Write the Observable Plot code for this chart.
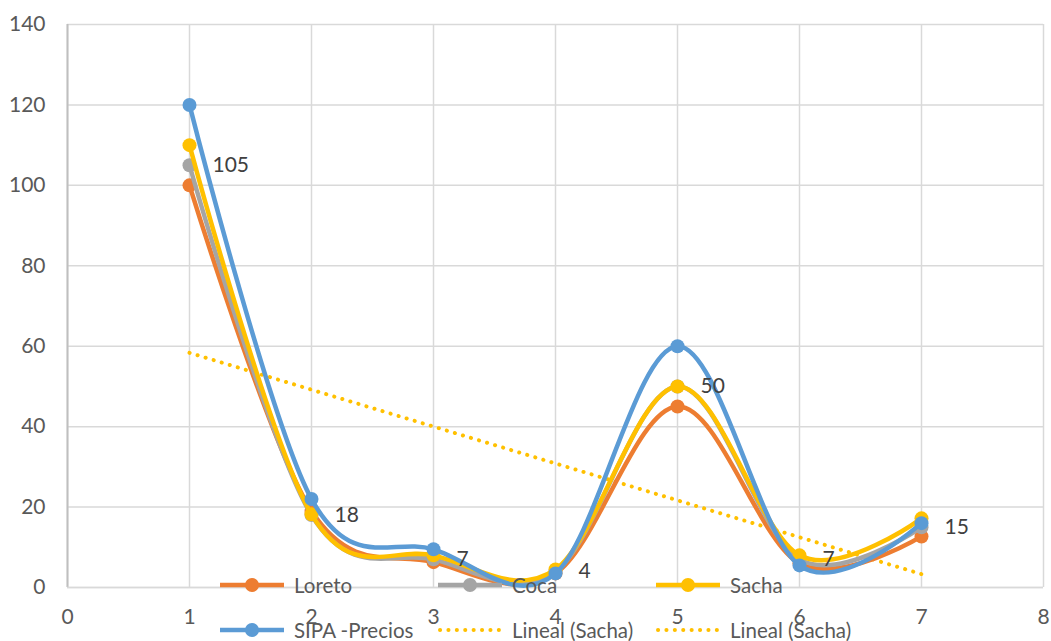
<!DOCTYPE html>
<html>
<head>
<meta charset="utf-8">
<script src="https://cdn.jsdelivr.net/npm/d3@7"></script>
<script src="https://cdn.jsdelivr.net/npm/@observablehq/plot@0.6"></script>
<style>
  body { margin: 0; background: #fff; }
  #wrap { position: relative; width: 1051px; height: 641px; font-family: Lato, "Open Sans", sans-serif; }
  .leg { position: absolute; display: flex; align-items: center; font-size: 20.5px; color: #595959; white-space: nowrap; }
  .leg svg { margin-right: 8px; }
</style>
</head>
<body>
<div id="wrap"></div>
<script>
const xs = [1, 2, 3, 4, 5, 6, 7];
const loreto = [100, 19, 6.3, 3.5, 45, 6, 12.7];
const coca = [105, 18, 7, 4, 50, 7, 15];
const sacha = [110, 18.2, 8, 4.5, 50, 8, 17.2];
const sipa = [120, 22, 9.5, 3.5, 60, 5.5, 16];
const cocaLabels = ["105", "18", "7", "4", "50", "7", "15"];
const seriesNames = ["Loreto", "Coca", "Sacha", "SIPA -Precios"];
const seriesColors = ["#ED7D31", "#A5A5A5", "#FFC000", "#5B9BD5"];
const trendName = "Lineal (Sacha)";
const xTicks = [0, 1, 2, 3, 4, 5, 6, 7, 8];
const yTicks = [0, 20, 40, 60, 80, 100, 120, 140];

const allSeries = [loreto, coca, sacha, sipa];
const sachaRows = xs.map((x, j) => ({x, y: sacha[j]}));
const cocaRows = xs.map((x, j) => ({x, y: coca[j], t: cocaLabels[j]}));

const seriesMarks = allSeries.flatMap((vals, i) => {
  const d = xs.map((x, j) => ({x, y: vals[j]}));
  return [
    Plot.line(d, {x: "x", y: "y", stroke: seriesColors[i], strokeWidth: 4.5, curve: "cardinal"}),
    Plot.dot(d, {x: "x", y: "y", fill: seriesColors[i], r: 7, stroke: "none"})
  ];
});

const chart = Plot.plot({
  width: 1051,
  height: 641,
  marginLeft: 67,
  marginRight: 8,
  marginTop: 24,
  marginBottom: 54,
  style: {fontFamily: "Lato, 'Open Sans', sans-serif", fontSize: "21px", color: "#595959", background: "#fff"},
  x: {domain: [0, 8], ticks: xTicks, tickSize: 0, tickPadding: 22, label: null, tickFormat: d => String(d)},
  y: {domain: [0, 140], ticks: yTicks, tickSize: 0, tickPadding: 22, label: null, tickFormat: d => String(d)},
  marks: [
    Plot.gridY(yTicks, {stroke: "#d9d9d9", strokeOpacity: 1, strokeWidth: 1.5}),
    Plot.gridX(xTicks, {stroke: "#d9d9d9", strokeOpacity: 1, strokeWidth: 1.5}),
    Plot.ruleX([0], {stroke: "#bfbfbf", strokeWidth: 2}),
    Plot.ruleY([0], {stroke: "#d9d9d9", strokeWidth: 1.5}),
    Plot.axisX({ticks: xTicks, tickSize: 0, tickPadding: 22, fill: "#595959", fontSize: 21}),
    Plot.axisY({ticks: yTicks, tickSize: 0, tickPadding: 22, fill: "#595959", fontSize: 21}),
    Plot.linearRegressionY(sachaRows, {x: "x", y: "y", ci: 0, stroke: "#FFC000", strokeWidth: 4, strokeDasharray: "0.1,8.3", strokeLinecap: "round"}),
    ...seriesMarks,
    Plot.text(cocaRows, {x: "x", y: "y", text: "t", dx: 23, textAnchor: "start", fill: "#404040", fontSize: 21})
  ]
});

const wrap = document.getElementById("wrap");
wrap.appendChild(chart);

function lineSwatch(color) {
  return `<svg width="68" height="20"><line x1="2" y1="10" x2="66" y2="10" stroke="${color}" stroke-width="4.5"/><circle cx="34" cy="10" r="7" fill="${color}"/></svg>`;
}
function dotSwatch(color) {
  return `<svg width="68" height="20"><line x1="4" y1="10" x2="66" y2="10" stroke="${color}" stroke-width="4" stroke-dasharray="0.1,8.3" stroke-linecap="round"/></svg>`;
}
const legendItems = [
  {html: lineSwatch(seriesColors[0]), label: seriesNames[0], left: 218, top: 573},
  {html: lineSwatch(seriesColors[1]), label: seriesNames[1], left: 436, top: 573},
  {html: lineSwatch(seriesColors[2]), label: seriesNames[2], left: 654, top: 573},
  {html: lineSwatch(seriesColors[3]), label: seriesNames[3], left: 218, top: 618},
  {html: dotSwatch("#FFC000"), label: trendName, left: 436, top: 618},
  {html: dotSwatch("#FFC000"), label: trendName, left: 654, top: 618}
];
for (const it of legendItems) {
  const div = document.createElement("div");
  div.className = "leg";
  div.style.left = it.left + "px";
  div.style.top = it.top + "px";
  div.innerHTML = it.html + `<span>${it.label}</span>`;
  wrap.appendChild(div);
}
</script>
</body>
</html>
